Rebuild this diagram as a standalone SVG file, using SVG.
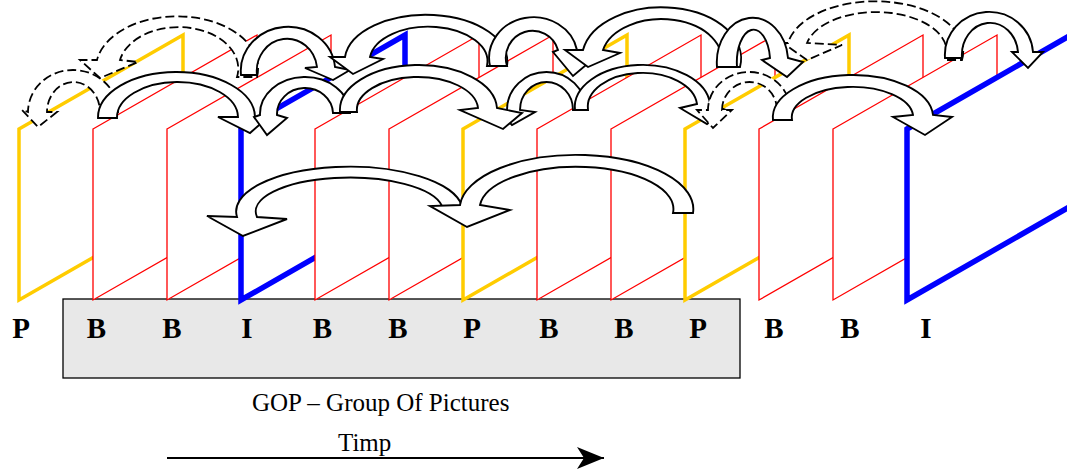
<svg xmlns="http://www.w3.org/2000/svg" width="1067" height="469" viewBox="0 0 1067 469">
  <style>
    .frame { fill: #FFFFFF; stroke-linejoin: miter; stroke-miterlimit: 10; }
    .fB { stroke: #FF0000; stroke-width: 1.3; }
    .fP { stroke: #FFCC00; stroke-width: 3.5; }
    .fI { stroke: #0000FF; stroke-width: 5.5; }
    .arr { fill: #FFFFFF; stroke: #000000; stroke-width: 1.9; stroke-linejoin: miter; }
    .dash { stroke-dasharray: 9 4; stroke-width: 1.8; }
    .lbl { font-family: "Liberation Serif", "Times New Roman", serif; font-weight: bold; font-size: 29px; fill: #000000; text-anchor: middle; }
    .cap { font-family: "Liberation Serif", "Times New Roman", serif; font-size: 25px; fill: #000000; }
  </style>
  <defs>
    <marker id="timeHead" markerWidth="28" markerHeight="24" refX="27" refY="11" orient="auto" markerUnits="userSpaceOnUse">
      <path d="M0,0 L27,11 L0,22 L7,11 Z" fill="#000000"/>
    </marker>
  </defs>
  <rect width="1067" height="469" fill="#FFFFFF"/>

  <!-- GOP box -->
  <g id="gop-box">
    <rect x="63" y="299" width="677" height="79" fill="#E8E8E8" stroke="#000000" stroke-width="1.3"/>
  </g>

  <!-- picture frames, drawn back to front -->
  <g id="frame-0"><polygon class="frame fP" points="19,129 183,35 183,206 19,300"/></g>
  <g id="frame-1"><polygon class="frame fB" points="93,129 257,35 257,206 93,300"/></g>
  <g id="frame-2"><polygon class="frame fB" points="167,129 331,35 331,206 167,300"/></g>
  <g id="frame-3"><polygon class="frame fI" points="241,129 405,35 405,206 241,300"/></g>
  <g id="frame-4"><polygon class="frame fB" points="315,129 479,35 479,206 315,300"/></g>
  <g id="frame-5"><polygon class="frame fB" points="389,129 553,35 553,206 389,300"/></g>
  <g id="frame-6"><polygon class="frame fP" points="463,129 627,35 627,206 463,300"/></g>
  <g id="frame-7"><polygon class="frame fB" points="537,129 701,35 701,206 537,300"/></g>
  <g id="frame-8"><polygon class="frame fB" points="611,129 775,35 775,206 611,300"/></g>
  <g id="frame-9"><polygon class="frame fP" points="685,129 849,35 849,206 685,300"/></g>
  <g id="frame-10"><polygon class="frame fB" points="759,129 923,35 923,206 759,300"/></g>
  <g id="frame-11"><polygon class="frame fB" points="833,129 997,35 997,206 833,300"/></g>
  <g id="frame-12"><polygon class="frame fI" points="907,129 1071,35 1071,206 907,300"/></g>

  <!-- frame type labels -->
  <g id="labels">
    <text class="lbl" x="21" y="338">P</text>
    <text class="lbl" x="96.5" y="338">B</text>
    <text class="lbl" x="172" y="338">B</text>
    <text class="lbl" x="247" y="338">I</text>
    <text class="lbl" x="322.5" y="338">B</text>
    <text class="lbl" x="398" y="338">B</text>
    <text class="lbl" x="472" y="338">P</text>
    <text class="lbl" x="549" y="338">B</text>
    <text class="lbl" x="624" y="338">B</text>
    <text class="lbl" x="698" y="338">P</text>
    <text class="lbl" x="774" y="338">B</text>
    <text class="lbl" x="850" y="338">B</text>
    <text class="lbl" x="926" y="338">I</text>
  </g>

  <!-- prediction arrows -->
  <g id="connectors">
    <!-- upper row -->
    <path class="arr dash" d="M257,77 A80,51.5 0 0 0 97,60 L80,60 L100,78 L138,62 L120,60 A58.5,40.5 0 0 1 237,77 Z"/>
    <path class="arr dash" d="M962,60 A87,49.5 0 0 0 788,43 L783,43 L807,60 L842,45 L807,43 A69,38.5 0 0 1 945,60 Z"/>
    <path class="arr" d="M241,75 A47,44 0 0 1 335,67 L350,70 L333,80 L305,68 L317,67 A30,32 0 0 0 257,75 Z"/>
    <path class="arr" d="M507,66 A81,46.5 0 0 0 345,57 L330,57 L353,74 L383,59 L370,57 A58.5,34.5 0 0 1 487,66 Z"/>
    <path class="arr" d="M490,66 A43.5,40 0 0 1 577,50 L598,55 L573,76 L553,52 L558,50 A25.5,26 0 0 0 507,66 Z"/>
    <path class="arr" d="M740,67 A78.5,50.5 0 0 0 583,50 L565,50 L588,67 L620,53 L603,50 A58.5,38.5 0 0 1 720,67 Z"/>
    <path class="arr" d="M717,67 A35.5,44.5 0 0 1 788,58 L803,62 L787,77 L762,60 L770,58 A16.5,32.5 0 0 0 737,67 Z"/>
    <path class="arr" d="M945,58 A44,43 0 0 1 1033,52 L1043,52 L1028,68 L1012,52 L1018,52 A28,32 0 0 0 962,58 Z"/>
    <!-- middle row -->
    <path class="arr dash" d="M118,112 A45,42 0 0 0 28,112 L22,110 L38,127 L57,112 L47,112 A26.5,30 0 0 1 100,112 Z"/>
    <path class="arr" d="M98,118 A78.5,45.5 0 0 1 255,117 L266,119 L250,133 L218,117 L238,117 A60.5,35.5 0 0 0 117,118 Z"/>
    <path class="arr" d="M350,113 A45,37 0 0 0 260,115 L254,117 L267,135 L287,118 L277,115 A28,26 0 0 1 333,113 Z"/>
    <path class="arr" d="M586,110 A39.5,38 0 0 0 507,110 L498,111 L512,125 L535,112 L520,110 A26.5,28 0 0 1 573,110 Z"/>
    <path class="arr" d="M340,112 A78.5,45 0 0 1 497,108 L522,113 L503,129 L460,110 L478,108 A60.5,33 0 0 0 357,112 Z"/>
    <path class="arr" d="M575,110 A67.5,42 0 0 1 710,104 L726,110 L707,124 L680,108 L697,104 A54.5,34 0 0 0 588,110 Z"/>
    <path class="arr dash" d="M790,110 A41,38 0 0 0 708,110 L697,110 L713,128 L732,110 L722,110 A27.5,28 0 0 1 777,110 Z"/>
    <path class="arr" d="M773,120 A80,42.5 0 0 1 933,115 L952,117 L925,135 L893,117 L913,115 A60.5,30.5 0 0 0 792,120 Z"/>
    <!-- lower row -->
    <path class="arr" d="M462,206 A112.5,44.5 0 0 0 237,217 L207,216 L243,236 L287,219 L257,217 A92.5,33.5 0 0 1 442,206 Z"/>
    <path class="arr" d="M693,213 A116.5,54 0 0 0 460,205 L430,206 L467,227 L510,210 L480,205 A96.5,42 0 0 1 673,213 Z"/>
  </g>

  <!-- captions -->
  <text class="cap" x="252" y="411">GOP – Group Of Pictures</text>
  <text class="cap" x="338" y="451">Timp</text>
  <g id="time-axis">
    <line x1="167" y1="458" x2="604" y2="458" stroke="#000000" stroke-width="2" marker-end="url(#timeHead)"/>
  </g>
</svg>
